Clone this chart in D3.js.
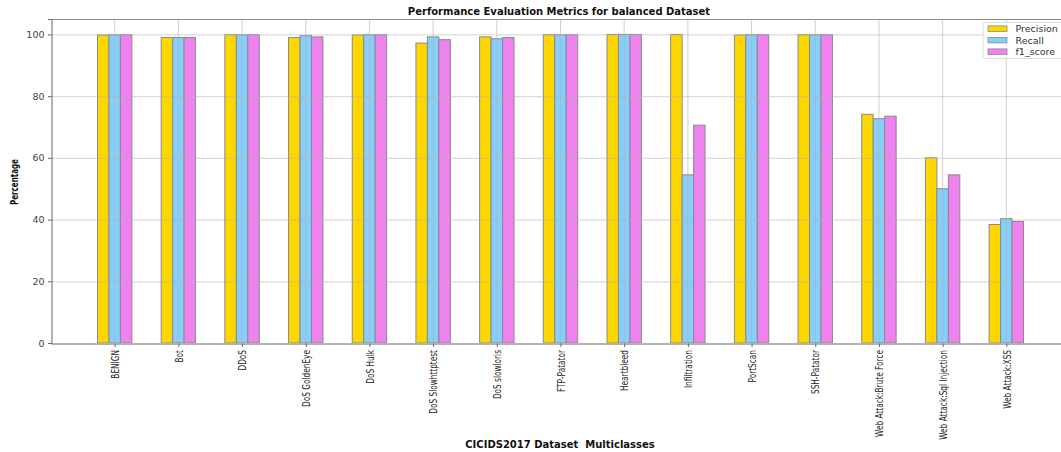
<!DOCTYPE html>
<html>
<head>
<meta charset="utf-8">
<script src="https://cdn.jsdelivr.net/npm/d3@7"></script>
<style>
  html, body { margin: 0; padding: 0; background: #fff; }
  svg { display: block; }
</style>
</head>
<body>
<svg id="chart" width="1061" height="452"></svg>
<script>
// Attack classes of the CICIDS2017 dataset
const categories = ["BENIGN", "Bot", "DDoS", "DoS GoldenEye", "DoS Hulk", "DoS Slowhttptest",
  "DoS slowloris", "FTP-Patator", "Heartbleed", "Infiltration", "PortScan", "SSH-Patator",
  "Web Attack:Brute Force", "Web Attack:Sql Injection", "Web Attack:XSS"];

// Per-class metrics in percent
const precision = [99.8, 99.0, 99.9, 99.0, 99.8, 97.2, 99.2, 99.9, 100, 100, 99.8, 99.9, 74.1, 60.0, 38.4];
const recall    = [99.9, 99.0, 99.9, 99.6, 99.9, 99.2, 98.6, 99.9, 100, 54.5, 99.9, 99.9, 72.7, 50.0, 40.3];
const f1Score   = [99.9, 99.0, 99.9, 99.2, 99.9, 98.3, 99.0, 99.9, 100, 70.6, 99.9, 99.9, 73.5, 54.5, 39.4];

const seriesNames = ["Precision", "Recall", "f1_score"];
const seriesColors = ["#FFD700", "#87CEFA", "#EE82EE"];
const yTicks = [0, 20, 40, 60, 80, 100];

const series = [precision, recall, f1Score];

const svg = d3.select("#chart");
const plotL = 51, plotR = 1070, plotT = 19, plotB = 343;

const x = d3.scaleLinear().domain([-1, categories.length]).range([plotL, plotR]);
const y = d3.scaleLinear().domain([0, 105]).range([plotB, plotT]);
const barW = 0.18;

svg.append("defs").append("clipPath").attr("id", "plotclip")
  .append("rect").attr("x", plotL).attr("y", plotT).attr("width", plotR - plotL).attr("height", plotB - plotT);

const plot = svg.append("g").attr("clip-path", "url(#plotclip)");

// Bars: three per class, recall centred on the class position
series.forEach((vals, s) => {
  plot.append("g").selectAll("rect")
    .data(vals)
    .join("rect")
    .attr("x", (d, i) => x(i + (s - 1) * barW - barW / 2))
    .attr("width", x(barW) - x(0))
    .attr("y", d => y(d))
    .attr("height", d => y(0) - y(d))
    .attr("fill", seriesColors[s])
    .attr("stroke", "#8a8a8a")
    .attr("stroke-width", 1);
});

// Grid drawn over the bars
const grid = plot.append("g");
grid.selectAll("line.h").data(yTicks).join("line")
  .attr("x1", plotL).attr("x2", plotR)
  .attr("y1", d => y(d) + 0.5).attr("y2", d => y(d) + 0.5)
  .attr("stroke", "#b0b0b0").attr("stroke-opacity", 0.45).attr("stroke-width", 1.2);
grid.selectAll("line.v").data(categories.map((c, i) => i)).join("line")
  .attr("y1", plotT).attr("y2", plotB)
  .attr("x1", d => x(d)).attr("x2", d => x(d))
  .attr("stroke", "#b0b0b0").attr("stroke-opacity", 0.6).attr("stroke-width", 1);

// Frame
svg.append("line").attr("x1", plotL).attr("x2", plotR).attr("y1", plotT + 0.5).attr("y2", plotT + 0.5)
  .attr("stroke", "#8c8c8c").attr("stroke-width", 1);

// Axes
const yAxis = d3.axisLeft(y).tickValues(yTicks).tickSize(3.5).tickPadding(3.5);
const gy = svg.append("g").attr("transform", `translate(${plotL + 0.5},0)`).call(yAxis);
gy.select(".domain").attr("stroke", "#666");
gy.selectAll(".tick line").attr("stroke", "#666");
gy.selectAll(".tick text").attr("font-family", "DejaVu Sans").attr("font-size", 9.5).attr("fill", "#444");

const xAxis = d3.axisBottom(x).tickValues(categories.map((c, i) => i)).tickFormat(i => categories[i]).tickSize(3.5).tickSizeOuter(0);
const gx = svg.append("g").attr("transform", `translate(0,${plotB + 0.5})`).call(xAxis);
gx.select(".domain").attr("stroke", "#666");
gx.selectAll(".tick line").attr("stroke", "#666");
const xLabels = gx.selectAll(".tick text")
  .attr("font-family", "DejaVu Sans")
  .attr("font-size", 10.5).attr("fill", "#222")
  .attr("text-anchor", "end")
  .attr("dy", "0.35em")
  .attr("y", 0);
// Narrow class names: squeeze the glyphs along the reading direction
const refLen = xLabels.filter(i => i === 12).node().getComputedTextLength();
const squeeze = 87 / refLen;
xLabels.attr("x", 0).attr("transform", `translate(0,6.5) rotate(-90) scale(${squeeze},1)`);

// Title and axis labels
svg.append("text").attr("x", 559).attr("y", 15).attr("text-anchor", "middle")
  .attr("font-family", "DejaVu Sans").attr("font-weight", "bold").attr("font-size", 10)
  .attr("fill", "#111").text("Performance Evaluation Metrics for balanced Dataset");

svg.append("text").attr("x", 560).attr("y", 448).attr("text-anchor", "middle")
  .attr("font-family", "DejaVu Sans").attr("font-weight", "bold").attr("font-size", 10)
  .attr("fill", "#111").attr("xml:space", "preserve").text("CICIDS2017 Dataset  Multiclasses");

const yLab = svg.append("text").attr("text-anchor", "middle")
  .attr("font-family", "DejaVu Sans").attr("font-weight", "bold").attr("font-size", 10.5)
  .attr("fill", "#111").text("Percentage");
const yLabSqueeze = 46 / yLab.node().getComputedTextLength();
yLab.attr("transform", `translate(18,182) rotate(-90) scale(${yLabSqueeze},1)`);

// Legend
const lg = svg.append("g").attr("transform", "translate(983,22.5)");
lg.append("rect").attr("x", 0).attr("y", 0).attr("width", 90).attr("height", 36).attr("rx", 2)
  .attr("fill", "#fff").attr("fill-opacity", 0.85).attr("stroke", "#ddd");
seriesNames.forEach((n, s) => {
  const row = lg.append("g").attr("transform", `translate(0,${6.2 + s * 11.5})`);
  row.append("rect").attr("x", 5).attr("y", -2.8).attr("width", 19).attr("height", 5.5)
    .attr("fill", seriesColors[s]).attr("stroke", "#8a8a8a").attr("stroke-width", 0.8);
  row.append("text").attr("x", 32.5).attr("y", 0).attr("dy", "0.35em")
    .attr("font-family", "DejaVu Sans").attr("font-size", 9.5).attr("fill", "#333").text(n);
});
</script>
</body>
</html>
